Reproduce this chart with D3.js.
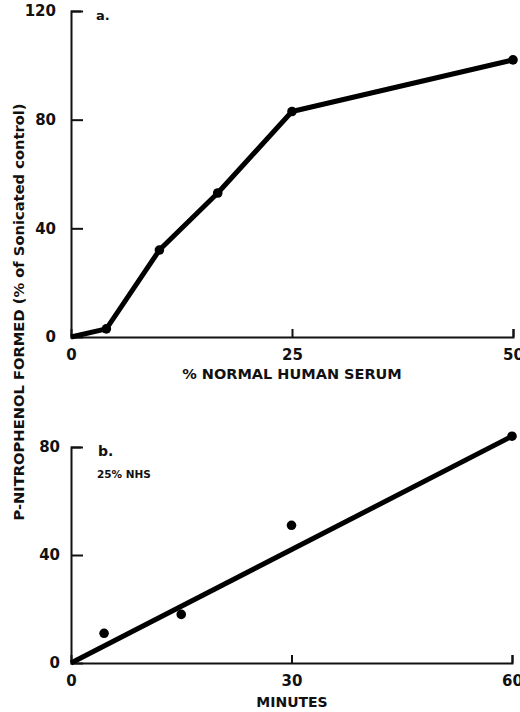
<!DOCTYPE html>
<html>
<head>
<meta charset="utf-8">
<script src="https://cdn.jsdelivr.net/npm/d3@7"></script>
<style>
  html, body { margin: 0; padding: 0; background: #fff; }
  svg { display: block; }
  text { font-family: "DejaVu Sans", sans-serif; font-weight: bold; fill: #111; }
  .axis path, .axis line { stroke: #111; stroke-width: 2; }
</style>
</head>
<body>
<svg id="chart" width="520" height="712"></svg>
<script>
// Panel a: activity vs % normal human serum
const serumPct  = [ 0, 4, 10, 16.6, 25, 50 ];
const pnpSerum  = [ 0, 3, 32, 53, 83, 102 ];
const serumTicks = [ 0, 25, 50 ];
const pnpTicksA  = [ 0, 40, 80, 120 ];

// Panel b: time course at 25% NHS
const minutes    = [ 4.5, 15, 30, 60 ];
const pnpTime    = [ 11, 18, 51, 84 ];
const fitMinutes = [ 0, 60 ];
const fitPnp     = [ 0, 84 ];
const minuteTicks = [ 0, 30, 60 ];
const pnpTicksB   = [ 0, 40, 80 ];

const svg = d3.select( '#chart' );

// builds one panel's axes and returns the scales
function makePanel ( opt ) {
  const x = d3.scaleLinear( ).domain( opt.xDomain ).range( [ opt.left, opt.right ] );
  const y = d3.scaleLinear( ).domain( opt.yDomain ).range( [ opt.bottom, opt.top ] );

  const xAxis = d3.axisBottom( x ).tickValues( opt.xTicks ).tickSizeOuter( 0 )
    .tickSize( -8 ).tickPadding( opt.xPad ).tickFormat( d3.format( 'd' ) );
  const yAxis = d3.axisLeft( y ).tickValues( opt.yTicks ).tickSizeOuter( 0 )
    .tickSize( -12 ).tickPadding( opt.yPad ).tickFormat( d3.format( 'd' ) );

  const gx = svg.append( 'g' ).attr( 'class', 'axis' )
    .attr( 'transform', `translate(0, ${opt.bottom})` ).call( xAxis );
  const gy = svg.append( 'g' ).attr( 'class', 'axis' )
    .attr( 'transform', `translate(${opt.left}, 0)` ).call( yAxis );

  gx.selectAll( 'text' ).style( 'font-size', '15px' );
  gy.selectAll( 'text' ).style( 'font-size', '15px' );
  // no tick on the zero marks, the axes meet there
  gx.selectAll( '.tick' ).filter( d => d === 0 ).select( 'line' ).remove( );
  gy.selectAll( '.tick' ).filter( d => d === 0 ).select( 'line' ).remove( );
  // top tick is a short bracket
  gy.selectAll( '.tick' ).filter( d => d === opt.yDomain[ 1 ] ).select( 'line' ).attr( 'x2', 10 );

  return { x, y };
}

// ---- panel a ----
const a = makePanel( {
  xDomain: [ 0, 50 ], yDomain: [ 0, 120 ],
  left: 71, right: 513, top: 11, bottom: 337,
  xTicks: serumTicks, yTicks: pnpTicksA, xPad: 12, yPad: 15
} );

const lineA = d3.line( ).x( ( d, i ) => a.x( serumPct[ i ] ) ).y( d => a.y( d ) );
svg.append( 'path' ).datum( pnpSerum )
  .attr( 'd', lineA ).attr( 'fill', 'none' ).attr( 'stroke', '#000' )
  .attr( 'stroke-width', 5 ).attr( 'stroke-linejoin', 'round' );

svg.append( 'g' ).selectAll( 'circle' ).data( pnpSerum ).enter( )
  .filter( ( d, i ) => i > 0 )
  .append( 'circle' )
  .attr( 'cx', ( d, i ) => a.x( serumPct[ i + 1 ] ) )
  .attr( 'cy', d => a.y( d ) )
  .attr( 'r', 4.8 ).attr( 'fill', '#000' );

svg.append( 'text' ).attr( 'x', 96 ).attr( 'y', 20 ).style( 'font-size', '13px' ).text( 'a.' );
svg.append( 'text' ).attr( 'x', 292 ).attr( 'y', 379 ).attr( 'text-anchor', 'middle' )
  .style( 'font-size', '14.5px' ).text( '% NORMAL HUMAN SERUM' );

// ---- panel b ----
const b = makePanel( {
  xDomain: [ 0, 60 ], yDomain: [ 0, 80 ],
  left: 71, right: 512, top: 447, bottom: 663,
  xTicks: minuteTicks, yTicks: pnpTicksB, xPad: 12, yPad: 11
} );

const lineB = d3.line( ).x( ( d, i ) => b.x( fitMinutes[ i ] ) ).y( d => b.y( d ) );
svg.append( 'path' ).datum( fitPnp )
  .attr( 'd', lineB ).attr( 'fill', 'none' ).attr( 'stroke', '#000' )
  .attr( 'stroke-width', 5 );

svg.append( 'g' ).selectAll( 'circle' ).data( pnpTime ).enter( )
  .append( 'circle' )
  .attr( 'cx', ( d, i ) => b.x( minutes[ i ] ) )
  .attr( 'cy', d => b.y( d ) )
  .attr( 'r', 4.8 ).attr( 'fill', '#000' );

svg.append( 'text' ).attr( 'x', 98 ).attr( 'y', 456 ).style( 'font-size', '14px' ).text( 'b.' );
svg.append( 'text' ).attr( 'x', 97 ).attr( 'y', 478 ).style( 'font-size', '10.5px' ).text( '25% NHS' );
svg.append( 'text' ).attr( 'x', 292 ).attr( 'y', 707 ).attr( 'text-anchor', 'middle' )
  .style( 'font-size', '14px' ).text( 'MINUTES' );

// shared y title
svg.append( 'text' )
  .attr( 'transform', 'translate(24, 312) rotate(-90)' )
  .attr( 'text-anchor', 'middle' )
  .style( 'font-size', '14.7px' )
  .text( 'P-NITROPHENOL FORMED (% of Sonicated control)' );
</script>
</body>
</html>
